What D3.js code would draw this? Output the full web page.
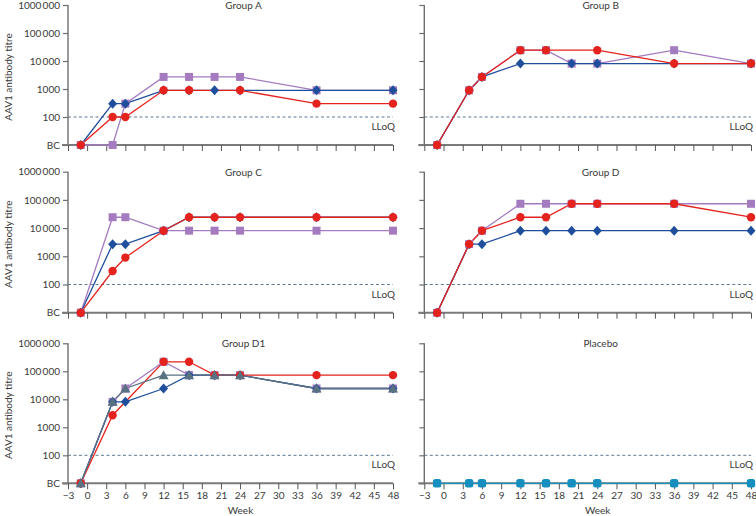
<!DOCTYPE html>
<html>
<head>
<meta charset="utf-8">
<script src="https://cdn.jsdelivr.net/npm/d3@7"></script>
<style>
  html, body { margin: 0; padding: 0; background: #ffffff; }
  svg { display: block; }
  text { font-family: Lato, "Open Sans", sans-serif; fill: #3a3a3a; }
</style>
</head>
<body>
<svg id="chart" width="756" height="516"></svg>
<script>
// ---------- DATA ----------
const BC = 10; // below cut-off, plotted at the bottom of the log axis
const LLOQ = 100;
const weeks = [-1, 4, 6, 12, 16, 20, 24, 36, 48];
const xTicks = [-3, 0, 3, 6, 9, 12, 15, 18, 21, 24, 27, 30, 33, 36, 39, 42, 45, 48];
const yTicks = [10, 100, 1000, 10000, 100000, 1000000];
const yTickLabels = ["BC", "100", "1000", "10\u2009000", "100\u2009000", "1000\u2009000"];
const panelTitles = ["Group A", "Group B", "Group C", "Group D", "Group D1", "Placebo"];

const groupA_purple = [BC, BC, 300, 2700, 2700, 2700, 2700, 900, 900];
const groupA_blue   = [BC, 300, 300, 900, 900, 900, 900, 900, 900];
const groupA_red    = [BC, 100, 100, 900, 900, null, 900, 300, 300];

const groupB_purple = [BC, 900, 2700, 24300, 24300, 8100, 8100, 24300, 8100];
const groupB_blue   = [BC, 900, 2700, 8100, null, 8100, 8100, 8100, 8100];
const groupB_red    = [BC, 900, 2700, 24300, 24300, null, 24300, 8100, 8100];

const groupC_purple = [BC, 24300, 24300, 8100, 8100, 8100, 8100, 8100, 8100];
const groupC_blue   = [BC, 2700, 2700, 8100, 24300, 24300, 24300, 24300, 24300];
const groupC_red    = [BC, 300, 900, 8100, 24300, 24300, 24300, 24300, 24300];

const groupD_purple = [BC, 2700, 8100, 72900, 72900, 72900, 72900, 72900, 72900];
const groupD_blue   = [BC, 2700, 2700, 8100, 8100, 8100, 8100, 8100, 8100];
const groupD_red    = [BC, 2700, 8100, 24300, 24300, 72900, 72900, 72900, 24300];

const groupD1_purple = [BC, 8100, 24300, 218700, 72900, 72900, 72900, 24300, 24300];
const groupD1_blue   = [BC, 8100, 8100, 24300, 72900, 72900, 72900, 24300, 24300];
const groupD1_red    = [BC, 2700, null, 218700, 218700, 72900, 72900, 72900, 72900];
const groupD1_slate  = [BC, 8100, 24300, 72900, 72900, 72900, 72900, 24300, 24300];

const placebo_teal = [BC, BC, BC, BC, BC, BC, BC, BC, BC];

// ---------- STYLE ----------
const styles = {
  purple: { color: "#a47bbf", shape: "square" },
  blue:   { color: "#1f4f9c", shape: "diamond" },
  red:    { color: "#e5231e", shape: "circle" },
  slate:  { color: "#587282", shape: "triangle" },
  teal:   { color: "#168fbf", shape: "rsquare" }
};

const panels = [
  { title: panelTitles[0], series: [["purple", groupA_purple], ["blue", groupA_blue], ["red", groupA_red]] },
  { title: panelTitles[1], series: [["purple", groupB_purple], ["blue", groupB_blue], ["red", groupB_red]] },
  { title: panelTitles[2], series: [["purple", groupC_purple], ["blue", groupC_blue], ["red", groupC_red]] },
  { title: panelTitles[3], series: [["purple", groupD_purple], ["blue", groupD_blue], ["red", groupD_red]] },
  { title: panelTitles[4], series: [["purple", groupD1_purple], ["blue", groupD1_blue], ["red", groupD1_red], ["slate", groupD1_slate]] },
  { title: panelTitles[5], series: [["teal", placebo_teal]] }
];

// ---------- LAYOUT ----------
const cols = [ { x0: 68, x1: 393 }, { x0: 424.3, x1: 751 } ];
const rows = [ { y0: 5, y1: 145 }, { y0: 171.7, y1: 312.7 }, { y0: 343.3, y1: 483.3 } ];

const svg = d3.select("#chart");

panels.forEach((p, i) => {
  const col = cols[i % 2], row = rows[Math.floor(i / 2)];
  const isLeft = i % 2 === 0;
  const isBottom = Math.floor(i / 2) === 2;
  const x = d3.scaleLinear().domain([-3, 48]).range([col.x0, col.x1]);
  const y = d3.scaleLog().domain([10, 1000000]).range([row.y1, row.y0]);
  const g = svg.append("g");

  // LLoQ dashed line
  g.append("line")
    .attr("x1", col.x0).attr("x2", col.x1)
    .attr("y1", y(LLOQ)).attr("y2", y(LLOQ))
    .attr("stroke", "#5d7a92").attr("stroke-width", 1)
    .attr("stroke-dasharray", "3,2.5");
  g.append("text")
    .attr("x", col.x1 + 2).attr("y", y(LLOQ) + 13)
    .attr("text-anchor", "end").attr("font-size", 10)
    .text("LLoQ");

  // y axis
  const yAxis = d3.axisLeft(y).tickValues(yTicks).tickSize(5).tickPadding(3)
    .tickFormat((d, k) => isLeft ? yTickLabels[k] : "");
  const yg = g.append("g").attr("transform", `translate(${col.x0},0)`).call(yAxis);
  yg.select(".domain").attr("stroke", "#6e6e6e").attr("stroke-width", 1.4)
    .attr("d", `M0,${row.y0}V${row.y1}`);
  yg.selectAll(".tick line").attr("stroke", "#6e6e6e").attr("stroke-width", 1.2);
  yg.selectAll(".tick text").attr("font-size", 10).attr("fill", "#3a3a3a")
    .attr("font-family", "Lato, sans-serif");

  // x axis
  const xAxis = d3.axisBottom(x).tickValues(xTicks).tickSize(6).tickPadding(3)
    .tickFormat(d => isBottom ? (d < 0 ? "\u2212" + Math.abs(d) : String(d)) : "");
  const xg = g.append("g").attr("transform", `translate(0,${row.y1})`).call(xAxis);
  xg.select(".domain").attr("stroke", "#7a7a7a").attr("stroke-width", 2)
    .attr("d", `M${col.x0 - 6},0H${col.x1}`);
  xg.selectAll(".tick line").attr("stroke", "#555").attr("stroke-width", 1);
  xg.selectAll(".tick text").attr("font-size", 10).attr("fill", "#3a3a3a")
    .attr("font-family", "Lato, sans-serif");

  // title
  g.append("text")
    .attr("x", (col.x0 + col.x1) / 2 + 13).attr("y", row.y0 + 4)
    .attr("text-anchor", "middle").attr("font-size", 10)
    .text(p.title);

  // y label
  if (isLeft) {
    g.append("text")
      .attr("transform", `translate(12,${(row.y0 + row.y1) / 2 + 2}) rotate(-90)`)
      .attr("text-anchor", "middle").attr("font-size", 10)
      .text("AAV1 antibody titre");
  }
  // x label
  if (isBottom) {
    g.append("text")
      .attr("x", (col.x0 + col.x1) / 2 + 10).attr("y", 514)
      .attr("text-anchor", "middle").attr("font-size", 10)
      .text("Week");
  }

  // series
  const line = d3.line()
    .defined(d => d.v !== null)
    .x(d => x(d.w)).y(d => y(d.v));

  p.series.forEach(([key, vals]) => {
    const st = styles[key];
    const pts = weeks.map((w, k) => ({ w, v: vals[k] })).filter(d => d.v !== null);
    g.append("path").datum(pts)
      .attr("fill", "none").attr("stroke", st.color).attr("stroke-width", 1.3)
      .attr("d", line);
  });
  p.series.forEach(([key, vals]) => {
    const st = styles[key];
    const pts = weeks.map((w, k) => ({ w, v: vals[k] })).filter(d => d.v !== null);
    const mg = g.append("g");
    pts.forEach(d => {
      const cx = x(d.w), cy = y(d.v);
      if (st.shape === "circle") {
        mg.append("circle").attr("cx", cx).attr("cy", cy).attr("r", 4.2)
          .attr("fill", st.color);
      } else if (st.shape === "square") {
        mg.append("rect").attr("x", cx - 4).attr("y", cy - 4).attr("width", 8).attr("height", 8)
          .attr("fill", st.color);
      } else if (st.shape === "rsquare") {
        mg.append("rect").attr("x", cx - 4.2).attr("y", cy - 4.2).attr("width", 8.4).attr("height", 8.4)
          .attr("rx", 2.5).attr("fill", st.color);
      } else if (st.shape === "diamond") {
        mg.append("path").attr("transform", `translate(${cx},${cy})`)
          .attr("d", "M0,-5L4.5,0L0,5L-4.5,0Z").attr("fill", st.color);
      } else if (st.shape === "triangle") {
        mg.append("path").attr("transform", `translate(${cx},${cy})`)
          .attr("d", "M0,-5L5,4L-5,4Z").attr("fill", st.color);
      }
    });
  });
});
</script>
</body>
</html>
